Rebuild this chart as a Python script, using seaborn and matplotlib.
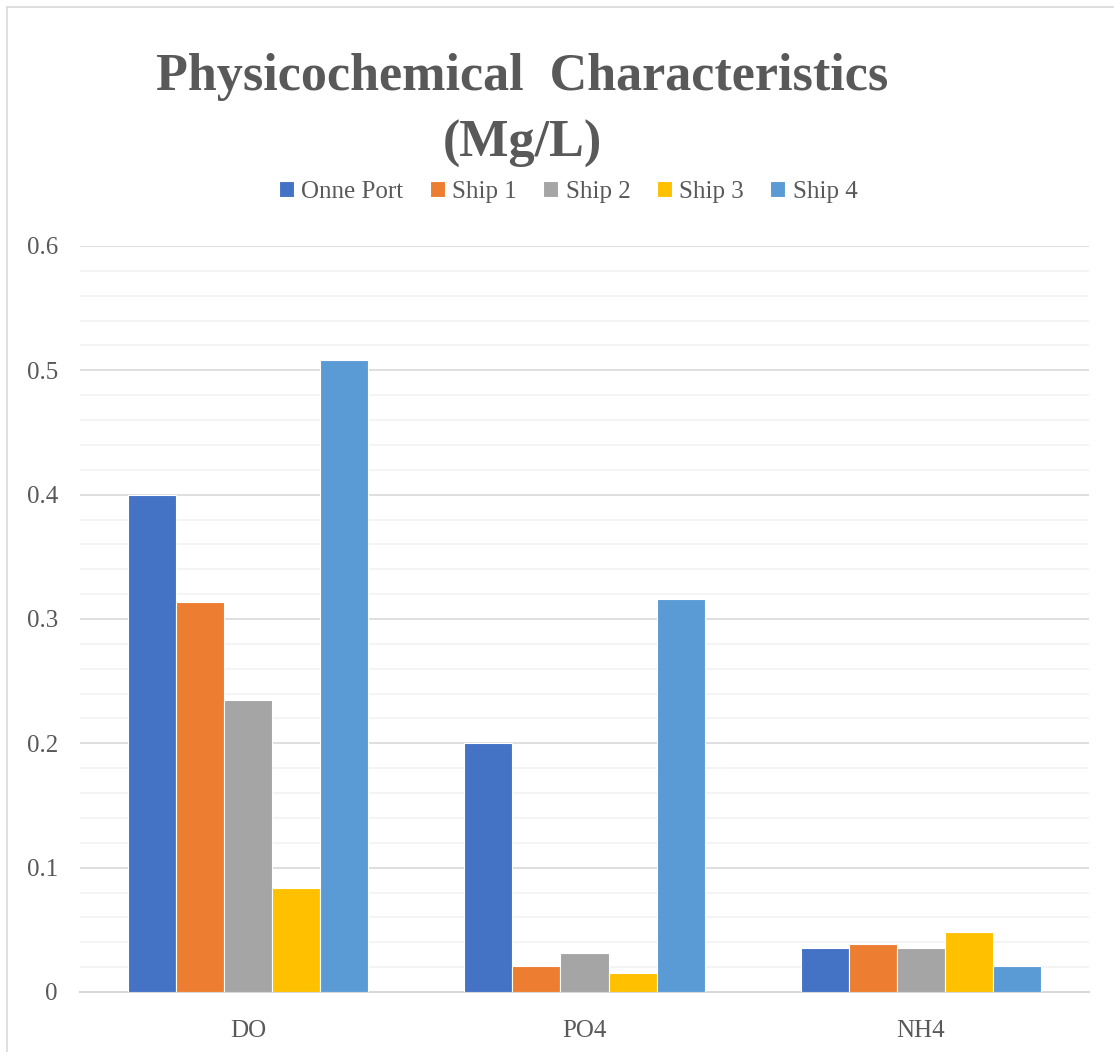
import pandas as pd
import matplotlib
matplotlib.use("Agg")
import matplotlib.pyplot as plt
import seaborn as sns
from matplotlib.ticker import MultipleLocator
from matplotlib.lines import Line2D

# data
parameters = ["DO", "PO4", "NH4"]
onne_port = [0.400, 0.200, 0.035]
ship_1 = [0.314, 0.021, 0.039]
ship_2 = [0.235, 0.031, 0.035]
ship_3 = [0.084, 0.015, 0.048]
ship_4 = [0.508, 0.316, 0.021]
sites = ["Onne Port", "Ship 1", "Ship 2", "Ship 3", "Ship 4"]
colors = ["#4472C4", "#ED7D31", "#A5A5A5", "#FFC000", "#5B9BD5"]

rows = []
for site, vals in zip(sites, [onne_port, ship_1, ship_2, ship_3, ship_4]):
    for p, v in zip(parameters, vals):
        rows.append({"Parameter": p, "Site": site, "Value": v})
df = pd.DataFrame(rows)

sns.set_style("white")
plt.rcParams["font.family"] = ["Liberation Serif", "DejaVu Serif"]
text_color = "#595959"

fig = plt.figure(figsize=(11.14, 10.52), dpi=100)
ax = fig.add_axes([80 / 1114, 1 - 992 / 1052, 1009 / 1114, 746 / 1052])

sns.barplot(data=df, x="Parameter", y="Value", hue="Site", hue_order=sites,
            palette=colors, width=0.714, edgecolor="white", linewidth=0.8,
            saturation=1, errorbar=None, ax=ax, zorder=3)

ax.set_ylim(0, 0.6)
ax.set_xlim(-0.5, 2.5)
ax.yaxis.set_minor_locator(MultipleLocator(0.02))
ax.set_yticks([0, 0.1, 0.2, 0.3, 0.4, 0.5, 0.6])
ax.set_yticklabels(["0", "0.1", "0.2", "0.3", "0.4", "0.5", "0.6"])
ax.grid(axis="y", which="minor", color="#F2F2F2", linewidth=1.2, zorder=0)
ax.grid(axis="y", which="major", color="#D9D9D9", linewidth=1.2, zorder=0)
ax.set_axisbelow(True)
for s in ["top", "right", "left"]:
    ax.spines[s].set_visible(False)
ax.spines["bottom"].set_color("#D9D9D9")
ax.spines["bottom"].set_linewidth(1.5)
ax.tick_params(axis="both", which="both", length=0, labelsize=18, labelcolor=text_color)
ax.tick_params(axis="y", pad=16)
ax.tick_params(axis="x", pad=20)
ax.set_xlabel("")
ax.set_ylabel("")

handles, labels = ax.get_legend_handles_labels()
ax.legend(handles, labels, loc="center", bbox_to_anchor=(568 / 1114, 1 - 192 / 1052),
          bbox_transform=fig.transFigure, ncol=5, frameon=False, fontsize=18,
          labelcolor=text_color, handlelength=0.6, handleheight=0.6,
          handletextpad=0.3, columnspacing=1.05)

fig.text(522 / 1114, 1 - 90 / 1052, "Physicochemical  Characteristics",
         ha="center", va="baseline", fontsize=37.5, fontweight="bold", color=text_color)
fig.text(522 / 1114, 1 - 157 / 1052, "(Mg/L)",
         ha="center", va="baseline", fontsize=37.5, fontweight="bold", color=text_color)

# chart frame: only the left and top edges show in the reference crop
fig.add_artist(Line2D([7 / 1114, 7 / 1114], [0, 1 - 7 / 1052], transform=fig.transFigure,
                      color="#D9D9D9", linewidth=1.2))
fig.add_artist(Line2D([7 / 1114, 1], [1 - 7 / 1052, 1 - 7 / 1052], transform=fig.transFigure,
                      color="#D9D9D9", linewidth=1.2))

fig.savefig("out.png", dpi=100)
